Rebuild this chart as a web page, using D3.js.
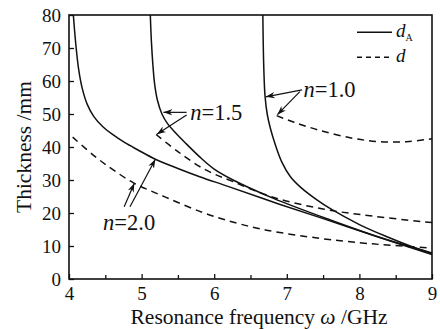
<!DOCTYPE html>
<html>
<head>
<meta charset="utf-8">
<script src="https://cdn.jsdelivr.net/npm/d3@7"></script>
<style>
  body { margin: 0; background: #fff; }
  svg text { font-family: "Liberation Serif", "DejaVu Serif", serif; fill: #111; }
  .axis path, .axis line { stroke: #111; }
</style>
</head>
<body>
<svg id="chart"></svg>
<script>
// n = 2.0
const freqA20 = [4.06, 4.09, 4.13, 4.18, 4.25, 4.34, 4.46, 4.6, 4.77, 4.95, 5.19, 5.5, 5.8, 6.2, 6.8, 7.46, 8.3, 9.0];
const thickA20 = [80, 72, 64, 58, 53, 49.3, 46.3, 43.8, 41.3, 39.1, 36.3, 33.5, 31, 28, 23.4, 18.6, 12.4, 7.4];
const freqD20 = [4.05, 4.36, 4.6, 4.9, 5.32, 5.85, 6.3, 6.72, 7.46, 8.0, 8.38, 9.0];
const thickD20 = [43, 37.1, 33.2, 29, 24.9, 20.1, 17, 14.8, 12.3, 11, 10.3, 9.4];
// n = 1.5
const freqA15 = [5.12, 5.135, 5.155, 5.18, 5.22, 5.28, 5.36, 5.46, 5.6, 5.8, 6.0, 6.26, 6.8, 7.6, 8.3, 9.0];
const thickA15 = [80, 72, 65, 59, 54, 50, 47, 44.5, 41.3, 37, 33.3, 30, 24.6, 17.9, 12.5, 7.9];
const freqD15 = [5.2, 5.5, 5.87, 6.26, 6.81, 7.5, 8.2, 9.0];
const thickD15 = [43.8, 38.6, 33.2, 29.5, 24.8, 21.2, 19.0, 17.1];
// n = 1.0
const freqA10 = [6.67, 6.675, 6.683, 6.70, 6.73, 6.77, 6.84, 6.93, 7.05, 7.2, 7.4, 7.6, 8.0, 8.38, 8.7, 9.0];
const thickA10 = [80, 72, 64, 55.5, 50, 46, 40.8, 35.5, 31, 27.6, 24.2, 21.3, 16.5, 12.8, 10, 7.7];
const freqD10 = [6.86, 7.1, 7.46, 7.92, 8.28, 8.65, 9.0];
const thickD10 = [49.5, 47.5, 45.0, 42.6, 41.6, 41.6, 42.5];

const xTicks = [4, 5, 6, 7, 8, 9];
const xMinorTicks = [4.5, 5.5, 6.5, 7.5, 8.5];
const yTicks = [0, 10, 20, 30, 40, 50, 60, 70, 80];

// annotation labels and arrows (data units)
const labels = [
  {text: "1.5", x: 5.67, y: 48.2},
  {text: "1.0", x: 7.23, y: 55.2},
  {text: "2.0", x: 4.47, y: 14.8}
];
const arrows = [
  [5.62, 50.5, 5.30, 50.5],
  [5.62, 49.7, 5.21, 43.9],
  [7.21, 57.3, 6.71, 55.2],
  [7.18, 56.8, 6.87, 49.8],
  [4.76, 21.9, 4.90, 29.0],
  [4.84, 21.9, 5.19, 36.3]
];

const config = {width: 440, height: 329, margin: {top: 15, right: 8, bottom: 50, left: 69}};
const width = config.width - config.margin.left - config.margin.right;
const height = config.height - config.margin.top - config.margin.bottom;

const svg = d3.select('#chart')
    .attr('width', config.width)
    .attr('height', config.height);

svg.append('defs').append('marker')
    .attr('id', 'head')
    .attr('viewBox', '0 0 10 10')
    .attr('refX', 10).attr('refY', 5)
    .attr('markerWidth', 9).attr('markerHeight', 9)
    .attr('markerUnits', 'userSpaceOnUse')
    .attr('orient', 'auto')
  .append('path')
    .attr('d', 'M0,1.5 L10,5 L0,8.5 L3,5 Z')
    .attr('fill', '#111');

const chart = svg.append('g')
    .attr('transform', `translate(${config.margin.left},${config.margin.top})`);

const xScale = d3.scaleLinear().domain([4, 9]).range([0, width]);
const yScale = d3.scaleLinear().domain([0, 80]).range([height, 0]);

chart.append('clipPath').attr('id', 'clip')
  .append('rect').attr('width', width).attr('height', height);

const line = d3.line()
    .x(d => xScale(d[0]))
    .y(d => yScale(d[1]))
    .curve(d3.curveCatmullRom.alpha(0.5));

const series = [
  {fx: freqA20, ty: thickA20, dash: null},
  {fx: freqD20, ty: thickD20, dash: '7,5'},
  {fx: freqA15, ty: thickA15, dash: null},
  {fx: freqD15, ty: thickD15, dash: '7,5'},
  {fx: freqA10, ty: thickA10, dash: null},
  {fx: freqD10, ty: thickD10, dash: '7,5'}
];

chart.append('g').attr('clip-path', 'url(#clip)')
  .selectAll('.curve')
  .data(series)
  .join('path')
    .attr('class', 'curve')
    .attr('fill', 'none')
    .attr('stroke', '#111')
    .attr('stroke-width', 1.5)
    .attr('stroke-dasharray', d => d.dash)
    .attr('d', d => line(d.fx.map((f, i) => [f, d.ty[i]])));

// axes, ticks pointing inward
const xAxis = d3.axisBottom(xScale).tickValues(xTicks).tickSizeInner(-5).tickSizeOuter(0).tickPadding(8).tickFormat(d3.format('d'));
const xMinor = d3.axisBottom(xScale).tickValues(xMinorTicks).tickSizeInner(-4).tickSizeOuter(0).tickFormat('');
const yAxis = d3.axisLeft(yScale).tickValues(yTicks).tickSizeInner(-5).tickSizeOuter(0).tickPadding(8);

chart.append('g').attr('class', 'axis').attr('transform', `translate(0,${height})`).call(xAxis);
chart.append('g').attr('class', 'axis').attr('transform', `translate(0,${height})`).call(xMinor);
chart.append('g').attr('class', 'axis').call(yAxis);

chart.selectAll('.axis .tick line').attr('stroke-width', 1.3);
chart.selectAll('.axis path').attr('stroke-width', 0);
chart.selectAll('.axis text').attr('font-size', 19).attr('fill', '#111')
    .attr('font-family', '"Liberation Serif", serif');

chart.append('rect')
    .attr('width', width).attr('height', height)
    .attr('fill', 'none').attr('stroke', '#111').attr('stroke-width', 1.6);

// annotations
chart.selectAll('.arrow')
  .data(arrows)
  .join('line')
    .attr('class', 'arrow')
    .attr('x1', d => xScale(d[0])).attr('y1', d => yScale(d[1]))
    .attr('x2', d => xScale(d[2])).attr('y2', d => yScale(d[3]))
    .attr('stroke', '#111').attr('stroke-width', 1.2)
    .attr('marker-end', 'url(#head)');

const lab = chart.selectAll('.lab')
  .data(labels)
  .join('text')
    .attr('class', 'lab')
    .attr('x', d => xScale(d.x)).attr('y', d => yScale(d.y))
    .attr('font-size', 22.5);
lab.append('tspan').attr('font-style', 'italic').text('n');
lab.append('tspan').text(d => '=' + d.text);

// legend
const legendItems = [{dash: null, sub: 'A'}, {dash: '5,4', sub: ''}];
const legend = chart.selectAll('.legend')
  .data(legendItems)
  .join('g')
    .attr('class', 'legend')
    .attr('transform', (d, i) => `translate(${width - 75},${17.3 + i * 25})`);
legend.append('line')
    .attr('x1', 0).attr('x2', 35)
    .attr('stroke', '#111').attr('stroke-width', 1.4)
    .attr('stroke-dasharray', d => d.dash);
const lt = legend.append('text').attr('x', 39).attr('y', 4.5).attr('font-size', 19);
lt.append('tspan').attr('font-style', 'italic').text('d');
lt.append('tspan').attr('font-size', 10).attr('dy', 4).text(d => d.sub);

// axis titles
svg.append('text')
    .attr('x', 259).attr('y', 324)
    .attr('text-anchor', 'middle')
    .attr('font-size', 21.5)
    .html('Resonance frequency <tspan font-style="italic">ω</tspan> /GHz');

svg.append('text')
    .attr('transform', 'translate(31,147) rotate(-90)')
    .attr('text-anchor', 'middle')
    .attr('font-size', 21.5)
    .text('Thickness /mm');
</script>
</body>
</html>
